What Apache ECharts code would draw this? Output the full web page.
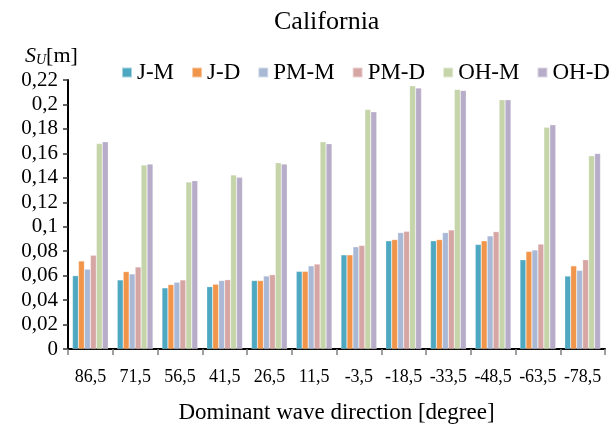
<!DOCTYPE html>
<html>
<head>
<meta charset="utf-8">
<script src="https://cdn.jsdelivr.net/npm/echarts@6/dist/echarts.min.js"></script>
<style>
  html, body { margin: 0; padding: 0; background: #fff; }
  #chart { width: 616px; height: 424px; }
</style>
</head>
<body>
<div id="chart"></div>
<script>
// dominant wave direction classes
var directions = ['86,5', '71,5', '56,5', '41,5', '26,5', '11,5', '-3,5', '-18,5', '-33,5', '-48,5', '-63,5', '-78,5'];
var seriesNames = ['J-M', 'J-D', 'PM-M', 'PM-D', 'OH-M', 'OH-D'];
var yTicks = [0, 0.02, 0.04, 0.06, 0.08, 0.1, 0.12, 0.14, 0.16, 0.18, 0.2, 0.22];

var jM  = [0.060, 0.0565, 0.050, 0.051, 0.056, 0.0635, 0.077, 0.0885, 0.0885, 0.0855, 0.073, 0.0597];
var jD  = [0.072, 0.0633, 0.0527, 0.053, 0.056, 0.0635, 0.077, 0.0895, 0.0895, 0.0885, 0.0798, 0.068];
var pmM = [0.0653, 0.0614, 0.0546, 0.056, 0.0597, 0.068, 0.0836, 0.0952, 0.0952, 0.0925, 0.081, 0.0643];
var pmD = [0.0767, 0.0671, 0.0565, 0.0567, 0.0608, 0.0695, 0.0847, 0.0963, 0.0974, 0.096, 0.0858, 0.073];
var ohM = [0.168, 0.1504, 0.1366, 0.1424, 0.1523, 0.1695, 0.1959, 0.2153, 0.2123, 0.2039, 0.1814, 0.158];
var ohD = [0.1695, 0.1512, 0.1377, 0.1405, 0.1512, 0.1679, 0.194, 0.2134, 0.2115, 0.2039, 0.1833, 0.1599];

var colors = ['#4fa8c1', '#f1954a', '#a9b8d5', '#d6a6a4', '#c5d4a9', '#b8adc9'];

var font = 'Liberation Serif';

var myChart = echarts.init(document.getElementById('chart'));

function makeSeries(name, data) {
    return {
        name: name,
        type: 'bar',
        barGap: '0%',
        barCategoryGap: '20%',
        data: data,
        itemStyle: {
            borderColor: 'rgba(255,255,255,0.5)',
            borderWidth: 0.5
        }
    };
}

var option = {
    color: colors,
    animation: false,
    textStyle: { fontFamily: font },
    title: {
        text: 'California',
        left: 269,
        top: 4,
        textStyle: { fontFamily: font, fontWeight: 'normal', fontSize: 26, color: '#000' }
    },
    legend: {
        data: seriesNames,
        left: 116,
        top: 56,
        itemWidth: 10,
        itemHeight: 10,
        itemGap: 17,
        icon: 'rect',
        textStyle: { fontFamily: font, fontSize: 23, color: '#000' }
    },
    graphic: [{
        type: 'text',
        left: 25,
        top: 45,
        style: {
            text: '{s|S}{u|U}{m|[m]}',
            rich: {
                s: { fontFamily: font, fontStyle: 'italic', fontSize: 22, fill: '#000' },
                u: { fontFamily: font, fontStyle: 'italic', fontSize: 14, fill: '#000', verticalAlign: 'bottom', padding: [9, 0, 0, 0] },
                m: { fontFamily: font, fontSize: 22, fill: '#000' }
            }
        }
    }],
    grid: {
        left: 68,
        right: 11,
        top: 80,
        bottom: 75,
        containLabel: false,
        outerBoundsMode: 'none'
    },
    xAxis: {
        type: 'category',
        data: directions,
        name: 'Dominant wave direction [degree]',
        nameLocation: 'middle',
        nameGap: 52,
        nameTextStyle: { fontFamily: font, fontSize: 23, color: '#000' },
        axisLine: { lineStyle: { color: '#000', width: 2 } },
        axisTick: { show: true, length: 6, lineStyle: { color: '#808080', width: 1.5 } },
        axisLabel: { fontFamily: font, fontSize: 18, color: '#000', margin: 19, interval: 0 }
    },
    yAxis: {
        type: 'value',
        min: yTicks[0],
        max: yTicks[yTicks.length - 1],
        interval: 0.02,
        axisLine: { show: true, lineStyle: { color: '#000', width: 2 } },
        axisTick: { show: true, length: 5, lineStyle: { color: '#333', width: 1.5 } },
        splitLine: { show: false },
        axisLabel: {
            fontFamily: font,
            fontSize: 21,
            color: '#000',
            margin: 10,
            formatter: function (v) {
                return String(Math.round(v * 100) / 100).replace('.', ',');
            }
        }
    },
    series: [
        makeSeries(seriesNames[0], jM),
        makeSeries(seriesNames[1], jD),
        makeSeries(seriesNames[2], pmM),
        makeSeries(seriesNames[3], pmD),
        makeSeries(seriesNames[4], ohM),
        makeSeries(seriesNames[5], ohD)
    ]
};

myChart.setOption(option);
</script>
</body>
</html>
